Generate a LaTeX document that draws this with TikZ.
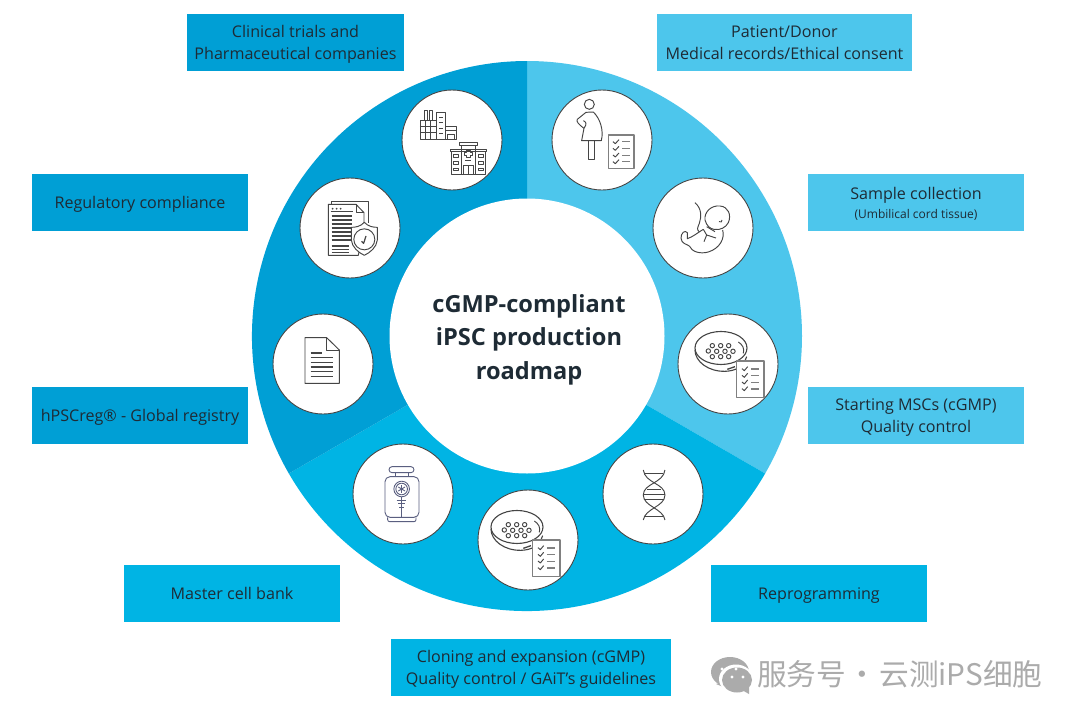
\documentclass[tikz,border=0pt]{standalone}
\usepackage{fontspec}
\setmainfont{Open Sans}
\newfontfamily\cjkwm{Noto Sans CJK SC}
\definecolor{ringlight}{HTML}{4DC6EC}
\definecolor{ringmid}{HTML}{00B4E4}
\definecolor{ringdark}{HTML}{009FD5}
\definecolor{icongray}{HTML}{454545}
\definecolor{iconnavy}{HTML}{5A5F80}
\definecolor{inkdark}{HTML}{1E2B35}
\definecolor{wmgray}{HTML}{ABABAB}
\tikzset{
  labelbox/.style={minimum height=57pt,inner sep=0pt,text=inkdark,font=\fontsize{16.1}{22}\selectfont},
  wbox/.style={labelbox,minimum width=216pt},
  iconcircle/.style={circle,draw=icongray,line width=0.9pt,fill=white,minimum size=100pt,inner sep=0pt},
  ic/.style={draw=icongray,line width=0.95pt,line join=round},
  icn/.style={draw=iconnavy,line width=0.9pt,line join=round}
}
\newcommand{\lbl}[1]{\raisebox{-2pt}[\height][\depth]{\begin{tabular}{@{}c@{}}#1\end{tabular}}}
\newcommand{\zoomscope}[3]{\begin{scope}[shift={(#1,#2)},x=0.3333pt,y=-0.3333pt]#3\end{scope}}
\newcommand{\petriicon}{%
  \draw[ic,line width=1.1pt] (243,534) ellipse [x radius=26pt,y radius=16.5pt];
  \draw[ic,line width=1.1pt] (165,540) .. controls (165,575) and (205,605) .. (255,604) .. controls (285,603) and (310,592) .. (320,560);
  \draw[ic] (295,516) .. controls (308,524) and (314,536) .. (310,550);
  \draw[ic,line width=1.3pt] (262,598) -- (285,590);
  \foreach \dx/\dy in {217/527,242/527,266/527,205/543,230/544,255/544,279/544,217/560,242/560,266/560}
    \draw[ic] (\dx,\dy) circle[radius=2.2pt];
  \draw[ic,draw=gray,fill=white,line width=1.1pt] (290,573) rectangle (372,682);
  \foreach \yy in {597,617,637,657}{
    \draw[ic] (306,\yy-1) -- (313,\yy+5) -- (323,\yy-7);
    \draw[ic,draw=gray,line width=1.1pt] (333,\yy) -- (358,\yy);
  }
}
\begin{document}
\begin{tikzpicture}[x=1pt,y=-1pt]
\useasboundingbox (0,0) rectangle (1080,718);
\fill[white] (0,0) rectangle (1080,718);
% ring
\coordinate (ringc) at (527,336);
\fill[ringlight] (ringc) ++(90:275pt) arc[start angle=90,end angle=-30,radius=275pt] -- (ringc) -- cycle;
\fill[ringmid] (ringc) ++(-30:275pt) arc[start angle=-30,end angle=-150,radius=275pt] -- (ringc) -- cycle;
\fill[ringdark] (ringc) ++(-150:275pt) arc[start angle=-150,end angle=-270,radius=275pt] -- (ringc) -- cycle;
\node[circle,fill=white,minimum size=275pt,inner sep=0pt] (hub) at (ringc) {};
\node[align=center,font=\bfseries\fontsize{23.6}{33.5}\selectfont,text=inkdark] (title) at (529,339.5) {cGMP-compliant\\iPSC production\\roadmap};
% circles
\node[iconcircle] (cpatient) at (602,140) {};
\node[iconcircle] (cfetus) at (703,228) {};
\node[iconcircle] (cpetri) at (728,364) {};
\node[iconcircle] (cdna) at (653,494) {};
\node[iconcircle] (cclone) at (528,540) {};
\node[iconcircle] (cfreezer) at (403,494) {};
\node[iconcircle] (cdoc) at (323,364) {};
\node[iconcircle] (creg) at (350,228) {};
\node[iconcircle] (cclinic) at (452,140) {};
% boxes
\node[wbox,fill=ringdark,minimum width=217pt] (bclinic) at (295.5,42.5) {\lbl{Clinical trials and\\Pharmaceutical companies}};
\node[wbox,fill=ringlight,minimum width=255pt] (bpatient) at (784.5,42.5) {\lbl{Patient/Donor\\Medical records/Ethical consent}};
\node[wbox,fill=ringdark] (breg) at (140,202.5) {\lbl{Regulatory compliance}};
\node[wbox,fill=ringlight] (bsample) at (916,202.5) {\lbl{Sample collection\\[-3pt]{\fontsize{12}{14}\selectfont (Umbilical cord tissue)}}};
\node[wbox,fill=ringdark] (bhpsc) at (140,415) {\lbl{hPSCreg® - Global registry}};
\node[wbox,fill=ringlight] (bstart) at (916,415) {\lbl{Starting MSCs (cGMP)\\Quality control}};
\node[wbox,fill=ringmid] (bmaster) at (232,593.5) {\lbl{Master cell bank}};
\node[wbox,fill=ringmid] (brepro) at (819,593.5) {\lbl{Reprogramming}};
\node[wbox,fill=ringmid,minimum width=280pt] (bclone) at (531,667.5) {\lbl{Cloning and expansion (cGMP)\\Quality control / GAiT’s guidelines}};
% patient icon
\zoomscope{380}{80}{
  \draw[ic] (628,73) circle[radius=5pt];
  \draw[ic] (618,97) -- (592,118) .. controls (588,124) and (595,132) .. (612,145) -- (605,182) -- (664,182) .. controls (672,150) and (660,115) .. (640,96) -- cycle;
  \draw[ic] (610,122) .. controls (618,125) and (622,132) .. (612,145);
  \draw[ic] (624,182) -- (624,237) -- (642,237) -- (642,182);
  \draw[ic,draw=gray,line width=1.1pt] (686,165) rectangle (762,265);
  \foreach \yy in {185,205,225,245}{
    \draw[ic] (699,\yy) -- (706,\yy+6) -- (717,\yy-6);
    \draw[ic,draw=gray] (727,\yy) -- (750,\yy);
  }
  % clinical icon
  \draw[ic] (132,122) -- (132,92) -- (142,92) -- (142,122) (147,122) -- (147,92) -- (157,92) -- (157,122);
  \draw[ic] (120,122) rectangle (168,177);
  \draw[ic] (120,140) -- (168,140) (120,158) -- (168,158) (136,122) -- (136,177) (152,122) -- (152,177);
  \draw[ic] (168,97) rectangle (196,177);
  \foreach \yy in {112,128,144,160} \draw[ic] (177,\yy) -- (188,\yy);
  \draw[ic] (196,140) -- (230,140) -- (230,177) -- (196,177);
  \draw[ic] (196,150) -- (230,150) (202,177) -- (202,162) -- (222,162) -- (222,177);
  \draw[ic] (238,187) rectangle (291,196);
  \draw[ic] (243,196) -- (243,207) (286,196) -- (286,207);
  \draw[ic] (210,207) rectangle (318,215);
  \draw[ic] (213,215) rectangle (316,283);
  \draw[ic] (243,207) -- (243,283) (286,207) -- (286,283);
  \draw[ic] (259,210) -- (270,210) -- (270,216) -- (276,216) -- (276,226) -- (270,226) -- (270,232) -- (259,232) -- (259,226) -- (253,226) -- (253,216) -- (259,216) -- cycle;
  \draw[ic] (255,242) -- (274,242);
  \draw[ic] (250,283) -- (250,257) -- (279,257) -- (279,283) (264,257) -- (264,283);
  \foreach \xx in {221,294} \foreach \yy in {228,248,268} \draw[ic] (\xx,\yy-4) rectangle (\xx+15,\yy+4);
}
% regulatory and document icons
\zoomscope{260}{170}{
  \draw[ic] (215,103) -- (215,93) -- (325,93) -- (325,160);
  \draw[ic,fill=white] (205,103) -- (288,103) -- (312,128) -- (312,175) -- (295,256) -- (205,256) -- cycle;
  \draw[ic] (288,103) -- (288,128) -- (312,128);
  \foreach \xx in {218,230,242} \fill[icongray] (\xx,116) circle[radius=1pt];
  \draw[ic] (212,124) -- (280,124);
  \foreach \yy in {138,150,162,174,186,198,210} \draw[ic,line width=1.3pt] (215,\yy) -- (275,\yy);
  \foreach \yy in {228,238,248} \draw[ic,line width=1.3pt] (215,\yy) -- (268,\yy);
  \draw[ic,fill=white] (313,157) .. controls (325,170) and (340,172) .. (352,172) -- (352,210) .. controls (350,232) and (330,248) .. (313,256) .. controls (296,248) and (276,232) .. (274,210) -- (274,172) .. controls (286,172) and (301,170) .. (313,157) -- cycle;
  \draw[ic] (313,208) circle[radius=10.5pt];
  \draw[ic,line width=1.2pt] (305,214) -- (311,220) -- (318,198);
  % plain document
  \draw[ic] (135,503) -- (200,503) -- (238,540) -- (238,640) -- (135,640) -- cycle;
  \draw[ic] (200,503) -- (200,540) -- (238,540);
  \draw[ic,line width=1.2pt] (152,549) -- (185,549);
  \foreach \yy in {563,577,591,605,619} \draw[ic,line width=1.2pt] (152,\yy) -- (220,\yy);
}
% fetus and petri icons
\zoomscope{640}{170}{
  \draw[ic] (165,98) .. controls (185,115) and (185,140) .. (178,160) .. controls (172,175) and (170,178) .. (178,186);
  \draw[ic] (195,150) .. controls (192,125) and (215,105) .. (240,108) .. controls (265,110) and (275,135) .. (265,158) .. controls (258,172) and (240,182) .. (222,178) .. controls (210,176) and (200,168) .. (195,150) -- cycle;
  \draw[ic] (248,180) .. controls (255,205) and (240,235) .. (205,246) .. controls (180,253) and (155,245) .. (148,228);
  \draw[ic] (148,228) .. controls (140,222) and (125,222) .. (123,205) .. controls (122,190) and (135,178) .. (142,188) .. controls (145,194) and (140,200) .. (142,206) .. controls (160,200) and (170,190) .. (190,178);
  \draw[ic] (190,178) -- (200,195) -- (192,215);
  \draw[ic] (200,195) -- (228,204);
  \draw[ic] (200,170) -- (225,185);
  \draw[ic] (237,155) .. controls (243,158) and (247,155) .. (246,150);
  \petriicon
}
% petri icon in the bottom circle
\zoomscope{436}{349}{\petriicon}
% DNA and freezer
\zoomscope{340}{430}{
  \draw[ic] (910,120) .. controls (915,160) and (975,160) .. (975,195) .. controls (975,230) and (915,235) .. (910,270);
  \draw[ic] (975,120) .. controls (970,160) and (910,160) .. (910,195) .. controls (910,230) and (970,235) .. (975,270);
  \foreach \yy/\aa/\bb in {130/915/970,179/922/964,192/910/975,208/914/971,258/916/969}
    \draw[ic] (\aa,\yy) -- (\bb,\yy);
  \draw[icn,rounded corners=3pt] (147,110) rectangle (222,128);
  \draw[icn] (165,128) -- (165,140) (205,128) -- (205,140);
  \draw[icn,rounded corners=5pt] (135,140) rectangle (237,262);
  \draw[icn,rounded corners=2pt] (143,262) -- (143,275) -- (228,275) -- (228,262);
  \draw[icn] (185,177) circle[radius=7.8pt];
  \draw[icn] (185,177) circle[radius=5.8pt];
  \foreach \ax/\ay/\bx/\by in {185/165/185/189,175/171/195/183,175/183/195/171}
    \draw[icn] (\ax,\ay) -- (\bx,\by);
  \draw[icn] (185,200) -- (185,262);
  \draw[icn] (170,210) -- (199,210) (175,220) -- (194,220) (178,232) -- (191,232);
}
% watermark
\fill[wmgray] (730,672) ellipse[x radius=19pt,y radius=15pt];
\fill[wmgray] (716,684) -- (722,682) -- (726,688) -- cycle;
\fill[white] (736,679) ellipse[x radius=17pt,y radius=14.5pt];
\fill[wmgray] (737,680) ellipse[x radius=15pt,y radius=12.5pt];
\fill[wmgray] (742,690) -- (749,685) -- (749,694) -- cycle;
\fill[white] (722,669) circle[radius=1.7pt] (736,669) circle[radius=1.7pt] (732,677) circle[radius=1.7pt] (743,677) circle[radius=1.7pt];
\node[anchor=west,inner sep=0pt,text=wmgray,font=\cjkwm\fontsize{29.7}{31}\selectfont] (wm) at (757,674) {服务号\kern-5pt{} · \kern-5pt{}云测iPS细胞};
\end{tikzpicture}
\end{document}
